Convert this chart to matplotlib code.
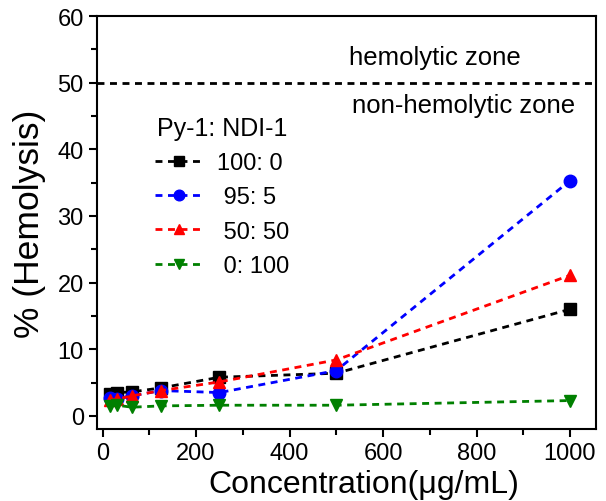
import matplotlib
matplotlib.use("Agg")
import matplotlib.pyplot as plt
from matplotlib.ticker import MultipleLocator

plt.rcParams['font.family'] = ['Liberation Sans', 'DejaVu Sans']

conc = [15.6, 31.25, 62.5, 125, 250, 500, 1000]
labels = ["100: 0", " 95: 5", " 50: 50", " 0: 100"]
s_100_0 = [3.3, 3.5, 3.6, 4.2, 5.8, 6.4, 16.0]
s_95_5 = [2.7, 2.6, 3.0, 3.8, 3.5, 6.8, 35.3]
s_50_50 = [2.4, 2.5, 3.0, 3.8, 5.1, 8.4, 21.1]
s_0_100 = [1.5, 1.6, 1.3, 1.5, 1.6, 1.6, 2.3]
series = [s_100_0, s_95_5, s_50_50, s_0_100]
threshold = 50

colors = ['black', 'blue', 'red', 'green']
markers = ['s', 'o', '^', 'v']

fig = plt.figure(figsize=(6.06, 5.02), dpi=100)
ax = fig.add_axes([0.160, 0.143, 0.823, 0.823])

for vals, c, m, lab in zip(series, colors, markers, labels):
    ax.plot(conc, vals, linestyle=(0, (2.5, 2)), color=c, marker=m, markersize=9,
            linewidth=2, label=lab)

ax.axhline(threshold, color='black', linestyle=(0, (2.5, 2)), linewidth=2)
ax.text(528, 53.9, "hemolytic zone", fontsize=18.5, ha='left', va='center')
ax.text(533, 46.7, "non-hemolytic zone", fontsize=18.5, ha='left', va='center')

ax.set_xlim(-12, 1055)
ax.set_ylim(-2, 60)
ax.xaxis.set_major_locator(MultipleLocator(200))
ax.xaxis.set_minor_locator(MultipleLocator(100))
ax.yaxis.set_major_locator(MultipleLocator(10))
ax.yaxis.set_minor_locator(MultipleLocator(5))
ax.tick_params(which='major', direction='out', length=6, width=1.5, labelsize=17,
               top=False, right=False)
ax.tick_params(which='minor', direction='out', length=4, width=1.5, top=False, right=False)
for sp in ax.spines.values():
    sp.set_linewidth(1.5)

ax.set_xlabel("Concentration(\u03bcg/mL)", fontsize=23)
ax.xaxis.set_label_coords(0.535, -0.1525)
ax.xaxis.label.set_va('baseline')
ax.set_ylabel("% (Hemolysis)", fontsize=25.5, labelpad=8)

leg = ax.legend(title="Py-1: NDI-1", loc='upper left', bbox_to_anchor=(0.092, 0.787),
                frameon=False, fontsize=17, title_fontsize=18, handlelength=2.1,
                labelspacing=0.52, borderpad=0, handletextpad=0.55, markerscale=0.85)

fig.savefig("out.png", dpi=100)
